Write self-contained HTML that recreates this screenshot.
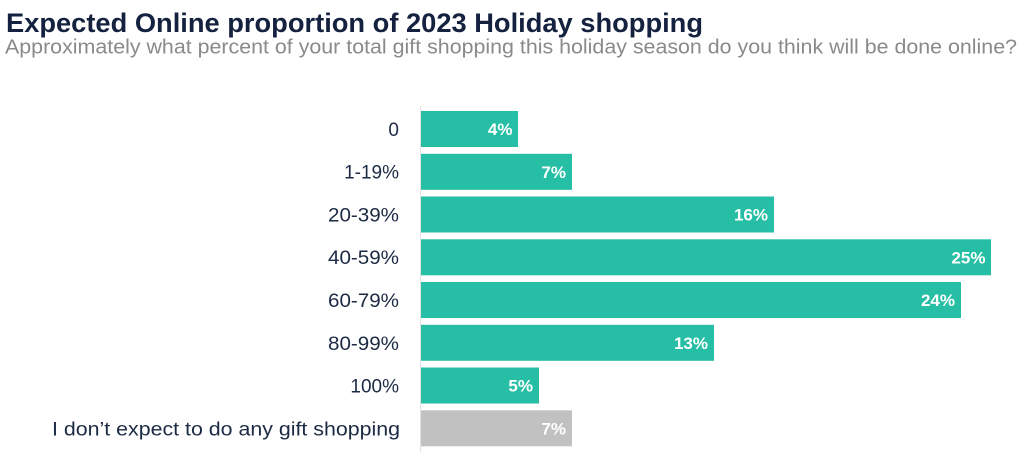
<!DOCTYPE html>
<html><head><meta charset="utf-8"><style>
html,body{margin:0;padding:0;background:#fff;}
svg{display:block;}
</style></head><body>
<svg width="1024" height="456" viewBox="0 0 1024 456" xmlns="http://www.w3.org/2000/svg">
<rect width="1024" height="456" fill="#fff"/>
<text x="6" y="32" font-family="Liberation Sans, sans-serif" font-weight="bold" font-size="26.5" fill="#15223f" textLength="697" lengthAdjust="spacingAndGlyphs">Expected Online proportion of 2023 Holiday shopping</text>
<text x="5" y="53.5" font-family="Liberation Sans, sans-serif" font-size="20" fill="#8a8a8a" textLength="1012" lengthAdjust="spacingAndGlyphs">Approximately what percent of your total gift shopping this holiday season do you think will be done online?</text>
<line x1="420.5" y1="106" x2="420.5" y2="452" stroke="#e2e2e2" stroke-width="1"/>
<g font-family="Liberation Sans, sans-serif" font-size="19" fill="#1c2a44" text-anchor="end">
<text x="399" y="136">0</text>
<text x="399" y="178.5">1-19%</text>
<text x="399" y="221.5" textLength="71" lengthAdjust="spacingAndGlyphs">20-39%</text>
<text x="399" y="264" textLength="71" lengthAdjust="spacingAndGlyphs">40-59%</text>
<text x="399" y="307" textLength="71" lengthAdjust="spacingAndGlyphs">60-79%</text>
<text x="399" y="350" textLength="71" lengthAdjust="spacingAndGlyphs">80-99%</text>
<text x="399" y="392.5">100%</text>
<text x="400" y="435.5" textLength="348" lengthAdjust="spacingAndGlyphs">I don’t expect to do any gift shopping</text>
</g>
<g fill="#26bea5">
<rect x="421" y="111" width="97" height="36"/>
<rect x="421" y="153.8" width="151" height="36"/>
<rect x="421" y="196.5" width="353" height="36"/>
<rect x="421" y="239.3" width="570" height="36"/>
<rect x="421" y="282" width="540" height="36"/>
<rect x="421" y="324.8" width="293" height="36"/>
<rect x="421" y="367.5" width="118" height="36"/>
</g>
<rect x="421" y="410.3" width="151" height="36" fill="#c1c1c1"/>
<g font-family="Liberation Sans, sans-serif" font-weight="bold" font-size="17" fill="#fff" text-anchor="end">
<text x="512.5" y="135">4%</text>
<text x="566" y="177.8">7%</text>
<text x="768" y="220.5">16%</text>
<text x="985.5" y="263.3">25%</text>
<text x="955" y="306">24%</text>
<text x="708" y="348.8">13%</text>
<text x="533" y="391.5">5%</text>
<text x="566" y="434.3">7%</text>
</g>
</svg>
</body></html>
